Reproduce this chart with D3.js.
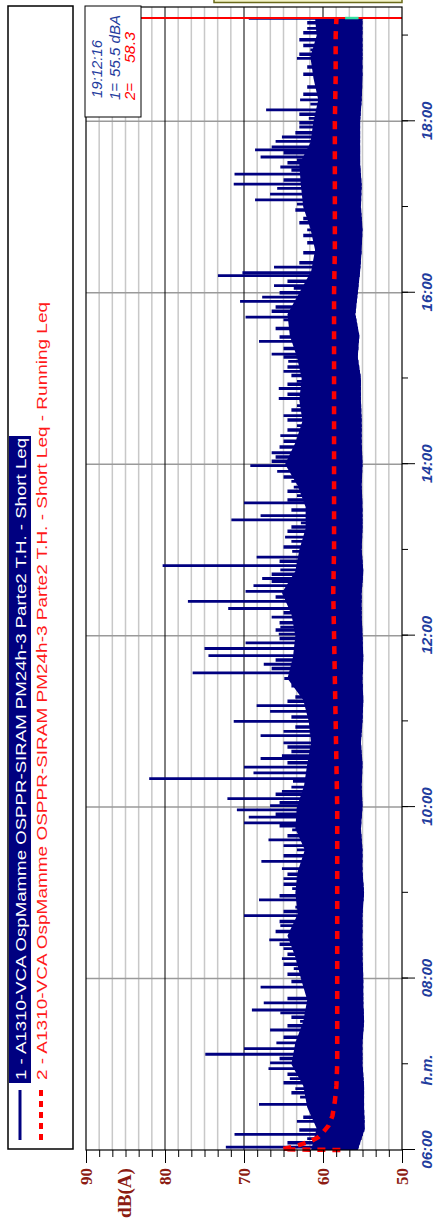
<!DOCTYPE html>
<html>
<head>
<meta charset="utf-8">
<script src="https://cdn.jsdelivr.net/npm/d3@7"></script>
<style>
  html, body { margin: 0; padding: 0; background: #fff; }
  svg { display: block; }
</style>
</head>
<body>
<div id="chart"></div>
<script>
// Leq time history, drawn landscape then turned -90deg like the printout

const timeLabels = ["06:00", "08:00", "10:00", "12:00", "14:00", "16:00", "18:00"];
const hourTicks = ["06:00", "07:00", "08:00", "09:00", "10:00", "11:00", "12:00", "13:00",
  "14:00", "15:00", "16:00", "17:00", "18:00", "19:00"];
const dbLabels = [50, 60, 70, 80, 90];

// Short Leq: dense band (min / busy edge) every 15 min
const bandTime = ["06:00", "06:15", "06:30", "06:45", "07:00", "07:15", "07:30", "07:45",
  "08:00", "08:15", "08:30", "08:45", "09:00", "09:15", "09:30", "09:45",
  "10:00", "10:15", "10:30", "10:45", "11:00", "11:15", "11:30", "11:45",
  "12:00", "12:15", "12:30", "12:45", "13:00", "13:15", "13:30", "13:45",
  "14:00", "14:15", "14:30", "14:45", "15:00", "15:15", "15:30", "15:45",
  "16:00", "16:15", "16:30", "16:45", "17:00", "17:15", "17:30", "17:45",
  "18:00", "18:15", "18:30", "18:45", "19:00", "19:12"];
const bandLo = [55.6, 54.7, 54.8, 54.8, 55.0, 55.0, 54.8, 54.9,
  54.9, 55.0, 55.0, 55.0, 54.8, 55.0, 55.0, 55.2,
  55.0, 55.1, 55.0, 55.2, 55.0, 54.9, 55.0, 54.9,
  55.0, 55.1, 55.1, 54.9, 55.1, 55.0, 55.0, 55.1,
  55.0, 55.1, 55.1, 55.2, 55.2, 55.6, 55.4, 55.9,
  55.6, 55.3, 55.1, 55.0, 55.2, 55.1, 55.3, 55.3,
  55.3, 55.1, 55.0, 55.0, 55.0, 55.0];
const bandHi = [61.5, 60.8, 62.0, 62.5, 64.0, 63.5, 62.5, 62.0,
  62.8, 63.5, 64.5, 63.2, 63.5, 63.2, 62.3, 63.5,
  63.3, 62.4, 62.0, 61.5, 61.8, 62.5, 64.5, 63.8,
  63.5, 64.0, 65.2, 63.5, 63.0, 62.2, 62.2, 63.2,
  64.8, 63.5, 62.6, 63.0, 62.7, 63.3, 64.2, 64.5,
  63.0, 61.5, 61.0, 61.6, 62.5, 62.8, 63.0, 61.6,
  61.2, 60.6, 61.2, 61.6, 60.8, 61.0];

// Short Leq: single peaks [time, dB]
const peaks = [
  ["06:02", 72.3], ["06:08", 62.0], ["06:11", 71.2], ["06:20", 63.3], ["06:27", 61.5],
  ["06:32", 68.1], ["06:37", 62.9], ["06:43", 63.5], ["06:50", 64.2], ["06:57", 66.9],
  ["07:01", 66.7], ["07:07", 74.9], ["07:11", 70.0], ["07:15", 65.9], ["07:24", 66.7],
  ["07:30", 62.9], ["07:36", 65.4], ["07:38", 69.0], ["07:43", 67.5], ["07:49", 62.0],
  ["07:54", 67.9], ["08:07", 63.7], ["08:14", 65.2], ["08:21", 65.0], ["08:27", 66.8],
  ["08:37", 65.4], ["08:44", 70.0], ["08:50", 63.5], ["08:55", 68.1], ["09:03", 63.9],
  ["09:10", 65.0], ["09:17", 65.2], ["09:22", 67.8], ["09:30", 63.3], ["09:33", 65.0],
  ["09:37", 66.9], ["09:44", 63.9], ["09:49", 70.0], ["09:53", 69.4], ["09:58", 70.9],
  ["10:01", 66.7], ["10:06", 72.1], ["10:11", 65.2], ["10:14", 64.0], ["10:18", 63.8],
  ["10:20", 82.0], ["10:24", 68.8], ["10:28", 70.0], ["10:34", 67.9], ["10:36", 65.2],
  ["10:45", 65.0], ["10:50", 67.9], ["10:53", 65.0], ["11:00", 71.3], ["11:07", 66.7],
  ["11:11", 68.4], ["11:20", 62.6], ["11:30", 64.9], ["11:34", 76.5], ["11:40", 67.5],
  ["11:46", 74.5], ["11:51", 75.0], ["11:55", 69.8], ["12:01", 65.6], ["12:06", 65.4],
  ["12:13", 66.5], ["12:19", 72.0], ["12:24", 77.1], ["12:31", 69.8], ["12:35", 68.8],
  ["12:40", 67.7], ["12:46", 65.4], ["12:49", 80.3], ["12:55", 68.4], ["12:59", 63.9],
  ["13:06", 64.0], ["13:09", 64.8], ["13:19", 62.8], ["13:21", 71.6], ["13:24", 67.9],
  ["13:33", 70.0], ["13:38", 63.3], ["13:44", 63.7], ["13:48", 64.0], ["13:55", 65.8],
  ["13:59", 69.2], ["14:08", 66.5], ["14:20", 65.4], ["14:27", 63.3], ["14:34", 65.0],
  ["14:41", 63.3], ["14:46", 65.6], ["14:53", 65.6], ["14:58", 63.3], ["15:05", 65.0],
  ["15:12", 64.4], ["15:17", 66.5], ["15:26", 68.1], ["15:31", 62.8], ["15:38", 62.8],
  ["15:41", 65.0], ["15:43", 69.8], ["15:54", 70.5], ["15:57", 67.7], ["16:03", 63.7],
  ["16:05", 66.2], ["16:12", 73.3], ["16:14", 70.2], ["16:18", 66.2], ["16:44", 62.0],
  ["16:55", 62.0], ["17:02", 63.3], ["17:05", 68.6], ["17:09", 66.7], ["17:13", 65.8],
  ["17:16", 71.3], ["17:23", 71.2], ["17:28", 65.4], ["17:33", 63.3], ["17:35", 67.9],
  ["17:40", 68.6], ["17:42", 66.5], ["17:46", 66.0], ["17:49", 65.2], ["17:56", 63.0],
  ["18:02", 61.8], ["18:08", 67.2], ["18:12", 61.6], ["18:15", 62.9], ["18:44", 63.3],
  ["18:50", 61.6], ["19:05", 62.0], ["19:12", 69.4]
];

// Short Leq: short bursts just above the busy edge [time, dB]
const fringe = [
  ["06:05", 64.5], ["06:14", 63.0], ["06:23", 62.5], ["06:40", 64.0], ["06:47", 65.0],
  ["06:53", 64.5], ["07:04", 65.5], ["07:19", 65.0], ["07:27", 64.5], ["07:33", 64.0],
  ["07:46", 64.5], ["07:58", 64.0], ["08:03", 64.5], ["08:10", 65.0], ["08:17", 64.5],
  ["08:24", 65.5], ["08:33", 66.0], ["08:40", 65.5], ["08:47", 65.0], ["08:58", 65.5],
  ["09:06", 65.0], ["09:13", 64.5], ["09:26", 65.0], ["09:40", 64.5], ["09:47", 65.5],
  ["09:55", 66.0], ["10:03", 65.5], ["10:09", 66.0], ["10:31", 64.5], ["10:39", 64.0],
  ["10:42", 64.5], ["10:56", 63.5], ["11:03", 64.0], ["11:14", 64.5], ["11:17", 63.5],
  ["11:25", 64.0], ["11:37", 66.5], ["11:43", 66.0], ["11:58", 65.5], ["12:04", 66.0],
  ["12:09", 65.5], ["12:16", 65.0], ["12:27", 66.0], ["12:38", 66.5], ["12:43", 66.5],
  ["12:52", 65.5], ["13:02", 65.0], ["13:13", 64.5], ["13:16", 64.0], ["13:28", 64.0],
  ["13:35", 64.5], ["13:41", 64.5], ["13:51", 65.0], ["14:02", 66.5], ["14:05", 66.0],
  ["14:12", 65.5], ["14:16", 65.0], ["14:24", 64.5], ["14:31", 64.5], ["14:38", 64.0],
  ["14:49", 64.5], ["14:56", 64.5], ["15:02", 64.0], ["15:08", 64.5], ["15:15", 65.0],
  ["15:21", 65.0], ["15:29", 65.5], ["15:35", 66.0], ["15:47", 66.5], ["15:50", 66.0],
  ["16:00", 65.5], ["16:08", 64.5], ["16:21", 63.0], ["16:28", 62.5], ["16:35", 62.0],
  ["16:40", 62.5], ["16:49", 63.0], ["16:52", 62.5], ["16:58", 63.5], ["17:19", 65.0],
  ["17:26", 64.0], ["17:31", 64.5], ["17:38", 65.0], ["17:52", 63.5], ["17:59", 63.0],
  ["18:05", 63.0], ["18:19", 62.5], ["18:24", 62.0], ["18:33", 62.5], ["18:38", 62.0],
  ["18:47", 63.0], ["18:53", 62.5], ["18:57", 63.0], ["19:02", 62.5], ["19:09", 62.0]
];

// Running Leq
const runTime = ["06:00:00", "06:00:30", "06:03", "06:06", "06:09", "06:13", "06:17", "06:24",
  "06:34", "06:45", "07:00", "07:30", "08:00", "08:30", "09:00", "09:30", "10:00",
  "10:30", "11:00", "11:30", "12:00", "12:30", "13:00", "13:30", "14:00", "14:30",
  "15:00", "15:30", "16:00", "16:30", "17:00", "17:30", "18:00", "18:30", "19:00", "19:12"];
const runLeq = [57.8, 65.2, 63.3, 61.6, 60.6, 59.9, 59.3, 58.8,
  58.5, 58.3, 58.2, 58.2, 58.2, 58.2, 58.2, 58.2, 58.2,
  58.3, 58.4, 58.5, 58.6, 58.7, 58.6, 58.6, 58.6, 58.6,
  58.6, 58.6, 58.6, 58.5, 58.5, 58.5, 58.5, 58.4, 58.4, 58.3];

const cursorTime = "19:12:16";
const cursorL1 = 55.5;
const cursorL2 = 58.3;
const legend1 = "1 - A1310-VCA OspMamme OSPPR-SIRAM PM24h-3 Parte2 T.H. - Short Leq";
const legend2 = "2 - A1310-VCA OspMamme OSPPR-SIRAM PM24h-3 Parte2 T.H. - Short Leq - Running Leq";

function T(s) {
  const p = s.split(":").map(Number);
  return new Date(2020, 0, 1, p[0], p[1], p[2] || 0);
}

const W = 1222, H = 434;   // landscape size before rotation
const NAVY = "#000080", RED = "#ff0000", BLUE_TXT = "#1f3d9e", DB_TXT = "#8c1c13";

const svg = d3.select("#chart").append("svg")
  .attr("width", H).attr("height", W);
const g = svg.append("g")
  .attr("transform", `translate(0,${W}) rotate(-90)`);

const x = d3.scaleTime().domain([T("06:00"), T("19:20")]).range([72, 1215]);
const y = d3.scaleLinear().domain([50, 90]).range([402, 86]);
const x0 = x.range()[0], x1 = x.range()[1], yTop = y(90), yBot = y(50);

// minor dB grid (6 divisions per 10 dB)
const minorDb = d3.range(0, 25).map(i => 50 + i * 10 / 6).filter(v => v % 10 > 0.01 && v % 10 < 9.99);
g.append("g").selectAll("line").data(minorDb).join("line")
  .attr("x1", x0).attr("x2", x1)
  .attr("y1", d => y(d)).attr("y2", d => y(d))
  .attr("stroke", "#c8c8c8").attr("stroke-width", 1.5);

// 2h time grid
g.append("g").selectAll("line").data(timeLabels.slice(1)).join("line")
  .attr("x1", d => x(T(d))).attr("x2", d => x(T(d)))
  .attr("y1", yTop).attr("y2", yBot)
  .attr("stroke", "#9a9a9a").attr("stroke-width", 1.5);

// major dB lines
g.append("g").selectAll("line").data([60, 70, 80]).join("line")
  .attr("x1", x0).attr("x2", x1)
  .attr("y1", d => y(d)).attr("y2", d => y(d))
  .attr("stroke", "#000").attr("stroke-width", 1);

// Short Leq band + peaks
const bandData = bandTime.map((t, i) => ({ t: T(t), lo: bandLo[i], hi: bandHi[i] }));
g.append("path")
  .datum(bandData)
  .attr("fill", NAVY)
  .attr("d", d3.area().x(d => x(d.t)).y0(d => y(d.lo)).y1(d => y(d.hi)));

const loAt = d3.scaleTime().domain(bandTime.map(T)).range(bandLo).clamp(true);
g.append("g").selectAll("line").data(fringe).join("line")
  .attr("x1", d => x(T(d[0]))).attr("x2", d => x(T(d[0])))
  .attr("y1", d => y(loAt(T(d[0])))).attr("y2", d => y(d[1]))
  .attr("stroke", NAVY).attr("stroke-width", 3.5);
g.append("g").selectAll("line").data(peaks).join("line")
  .attr("x1", d => x(T(d[0]))).attr("x2", d => x(T(d[0])))
  .attr("y1", d => y(loAt(T(d[0])))).attr("y2", d => y(d[1]))
  .attr("stroke", NAVY).attr("stroke-width", 2.8);

// Running Leq
g.append("path")
  .datum(runTime.map((t, i) => ({ t: T(t), v: runLeq[i] })))
  .attr("fill", "none")
  .attr("stroke", RED)
  .attr("stroke-width", 4.5)
  .attr("stroke-dasharray", "8,7")
  .attr("d", d3.line().x(d => x(d.t)).y(d => y(d.v)));

// cursor
const cx = x(T(cursorTime));
g.append("line")
  .attr("x1", cx).attr("x2", cx).attr("y1", yTop).attr("y2", yBot)
  .attr("stroke", RED).attr("stroke-width", 2);
g.append("line")
  .attr("x1", cx).attr("x2", cx).attr("y1", y(57.2)).attr("y2", y(cursorL1))
  .attr("stroke", "#33e0a0").attr("stroke-width", 2.5);

// frame
g.append("rect")
  .attr("x", x0).attr("y", yTop).attr("width", x1 - x0).attr("height", yBot - yTop)
  .attr("fill", "none").attr("stroke", "#000").attr("stroke-width", 1.2);

// time axis (bottom in landscape)
g.append("g")
  .attr("transform", `translate(0,${yBot})`)
  .call(d3.axisBottom(x).tickValues(hourTicks.map(T)).tickSize(6).tickFormat(""))
  .call(a => a.select(".domain").remove());
g.append("g")
  .attr("transform", `translate(0,${yBot})`)
  .call(d3.axisBottom(x).tickValues(timeLabels.map(T)).tickSize(13)
    .tickFormat(d3.timeFormat("%H:%M")))
  .call(a => a.select(".domain").remove())
  .call(a => a.selectAll("text")
    .attr("y", 30).attr("dy", 0)
    .attr("fill", BLUE_TXT)
    .attr("font-family", "Liberation Sans, Arial, sans-serif")
    .attr("font-size", 15).attr("font-weight", "bold").attr("font-style", "italic"));
g.append("text")
  .attr("x", x(T("06:56"))).attr("y", yBot + 30)
  .attr("text-anchor", "middle")
  .attr("fill", BLUE_TXT)
  .attr("font-family", "Liberation Sans, Arial, sans-serif")
  .attr("font-size", 15).attr("font-weight", "bold").attr("font-style", "italic")
  .text("h.m.");

// dB axis (left in landscape)
g.append("g")
  .attr("transform", `translate(${x0},0)`)
  .call(d3.axisLeft(y).tickValues(minorDb).tickSize(7).tickFormat(""))
  .call(a => a.select(".domain").remove());
g.append("g")
  .attr("transform", `translate(${x0},0)`)
  .call(d3.axisLeft(y).tickValues(dbLabels).tickSize(13).tickFormat(d3.format("d")))
  .call(a => a.select(".domain").remove())
  .call(a => a.selectAll("text")
    .attr("x", -18)
    .attr("fill", DB_TXT)
    .attr("font-family", "Liberation Serif, Times New Roman, serif")
    .attr("font-size", 17).attr("font-weight", "bold"));
g.append("text")
  .attr("x", 4).attr("y", 131)
  .attr("fill", DB_TXT)
  .attr("font-family", "Liberation Serif, Times New Roman, serif")
  .attr("font-size", 18).attr("font-weight", "bold")
  .attr("textLength", 50).attr("lengthAdjust", "spacingAndGlyphs")
  .text("dB(A)");

// legend
g.append("rect")
  .attr("x", 73).attr("y", 8).attr("width", 1143).attr("height", 65)
  .attr("fill", "#fff").attr("stroke", "#000").attr("stroke-width", 1.5);
g.append("line")
  .attr("x1", 82).attr("x2", 132).attr("y1", 20).attr("y2", 20)
  .attr("stroke", NAVY).attr("stroke-width", 3);
g.append("line")
  .attr("x1", 82).attr("x2", 132).attr("y1", 41).attr("y2", 41)
  .attr("stroke", RED).attr("stroke-width", 4).attr("stroke-dasharray", "6,5");
g.append("rect")
  .attr("x", 139).attr("y", 9).attr("width", 647).attr("height", 22)
  .attr("fill", NAVY);
g.append("text")
  .attr("x", 142).attr("y", 26)
  .attr("fill", "#fff")
  .attr("font-family", "Liberation Sans, Arial, sans-serif").attr("font-size", 15)
  .attr("textLength", 642).attr("lengthAdjust", "spacingAndGlyphs")
  .text(legend1);
g.append("text")
  .attr("x", 142).attr("y", 47)
  .attr("fill", "#ff1a1a")
  .attr("font-family", "Liberation Sans, Arial, sans-serif").attr("font-size", 15)
  .attr("textLength", 778).attr("lengthAdjust", "spacingAndGlyphs")
  .text(legend2);

// cursor readout box
g.append("rect")
  .attr("x", 1105).attr("y", 85).attr("width", 111).attr("height", 56)
  .attr("fill", "#fff").attr("stroke", "#000").attr("stroke-width", 1);
const info = g.append("g")
  .attr("font-family", "Liberation Sans, Arial, sans-serif")
  .attr("font-size", 15).attr("font-style", "italic").attr("lengthAdjust", "spacingAndGlyphs");
info.append("text").attr("x", 1124).attr("y", 102).attr("fill", BLUE_TXT)
  .attr("textLength", 58).attr("lengthAdjust", "spacingAndGlyphs").text(cursorTime);
info.append("text").attr("x", 1122).attr("y", 120).attr("fill", BLUE_TXT).text("1=");
info.append("text").attr("x", 1145).attr("y", 120).attr("fill", BLUE_TXT)
  .attr("textLength", 62).attr("lengthAdjust", "spacingAndGlyphs")
  .text(cursorL1.toFixed(1) + " dBA");
info.append("text").attr("x", 1122).attr("y", 135).attr("fill", RED).text("2=");
info.append("text").attr("x", 1159).attr("y", 135).attr("fill", RED)
  .attr("textLength", 31).attr("lengthAdjust", "spacingAndGlyphs")
  .text(cursorL2.toFixed(1));

// edge of the panel above (cut off)
g.append("rect")
  .attr("x", 1219.5).attr("y", 214).attr("width", 6).attr("height", 188)
  .attr("fill", "#f4f4c8").attr("stroke", "#6b6b1a").attr("stroke-width", 1.5);
</script>
</body>
</html>
